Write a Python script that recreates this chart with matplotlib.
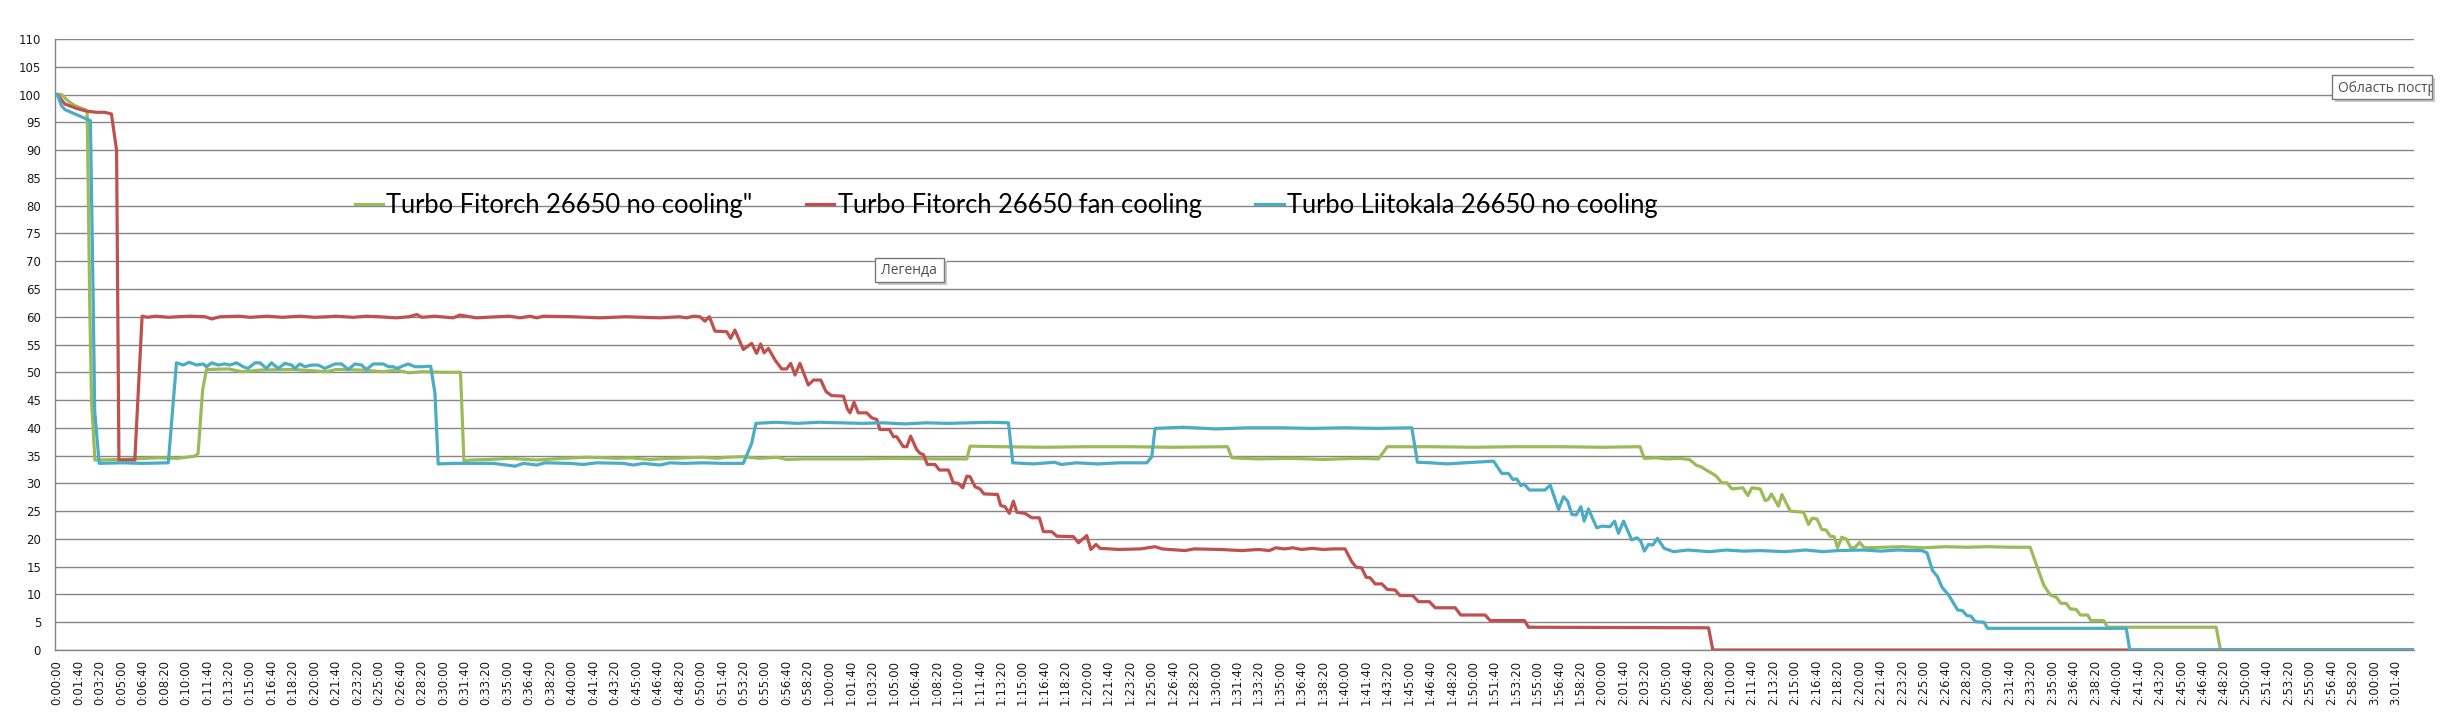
"""Turbo mode discharge comparison: brightness (%) over time for three 26650 setups."""

import matplotlib
matplotlib.use("Agg")
import matplotlib.pyplot as plt
from matplotlib.patches import Rectangle

W, H = 2447, 727

SERIES_NAMES = [
    'Turbo Fitorch 26650 no cooling"',
    "Turbo Fitorch 26650 fan cooling",
    "Turbo Liitokala 26650 no cooling",
]
COLORS = ["#9BBB59", "#C0504D", "#4BACC6"]

# time in seconds, brightness in %
GREEN_T = [0, 20, 52, 83, 130, 140, 152, 160, 176, 300, 471, 560, 642, 657, 678, 696, 800, 860,
           950, 1100, 1256, 1300, 1420, 1520, 1580, 1640, 1700, 1800, 1880, 1896, 1924, 2017, 2110,
           2235, 2359, 2468, 2561, 2615, 2670, 2763, 2856, 3012, 3074, 3121, 3198, 3276, 3354, 3400,
           3478, 3742, 3900, 4100, 4240, 4255, 4400, 4600, 4800, 5000, 5200, 5455, 5475, 5600, 5750,
           5900, 6050, 6158, 6200, 6400, 6600, 6800, 7000, 7200, 7378, 7397, 7450, 7500, 7560, 7608,
           7642, 7662, 7681, 7705, 7733, 7759, 7782, 7806, 7857, 7880, 7899, 7938, 7961, 7975, 7990,
           8023, 8039, 8078, 8140, 8163, 8179, 8202, 8225, 8245, 8264, 8283, 8298, 8318, 8339, 8360,
           8381, 8401, 8423, 8600, 8700, 8800, 8900, 9000, 9100, 9196, 9231, 9259, 9290, 9318, 9339,
           9364, 9383, 9411, 9430, 9464, 9479, 9538, 9557, 10063, 10083, 10980]
GREEN_V = [100, 100, 98.8, 98.0, 97.3, 97.0, 62.0, 45.0, 34.2, 34.3, 34.6, 34.5, 34.9, 35.4, 46.8,
           50.5, 50.6, 50.1, 50.4, 50.5, 50.1, 50.5, 50.4, 50.1, 50.4, 49.9, 50.1, 50.0, 50.0, 34.0,
           34.2, 34.3, 34.5, 34.2, 34.5, 34.7, 34.6, 34.5, 34.6, 34.3, 34.5, 34.7, 34.5, 34.7, 34.8,
           34.5, 34.7, 34.3, 34.4, 34.4, 34.5, 34.4, 34.4, 36.7, 36.6, 36.5, 36.6, 36.6, 36.5, 36.6,
           34.6, 34.4, 34.5, 34.3, 34.5, 34.4, 36.6, 36.6, 36.5, 36.6, 36.6, 36.5, 36.6, 34.5, 34.6,
           34.4, 34.5, 34.3, 33.2, 33.0, 32.5, 32.0, 31.3, 30.1, 30.1, 29.0, 29.2, 27.8, 29.2, 29.0,
           26.9, 27.1, 28.1, 25.9, 28.0, 25.0, 24.8, 22.6, 23.7, 23.6, 21.7, 21.6, 20.5, 20.4, 18.4,
           20.3, 20.0, 18.4, 18.5, 19.4, 18.4, 18.6, 18.4, 18.6, 18.5, 18.6, 18.5, 18.5, 14.7, 11.7,
           9.9, 9.5, 8.4, 8.4, 7.4, 7.3, 6.3, 6.3, 5.3, 5.3, 4.1, 4.1, 0, 0]

RED_T = [0, 36, 90, 138, 185, 222, 253, 277, 288, 362, 396, 420, 460, 520, 560, 620, 690, 720, 760,
         850, 900, 980, 1050, 1130, 1200, 1260, 1300, 1380, 1440, 1500, 1580, 1640, 1676, 1700, 1760,
         1846, 1877, 1955, 2048, 2110, 2157, 2204, 2235, 2266, 2400, 2530, 2650, 2810, 2900, 2934,
         2965, 2996, 3019, 3040, 3066, 3121, 3139, 3159, 3198, 3237, 3260, 3279, 3295, 3315, 3346,
         3377, 3400, 3419, 3439, 3462, 3501, 3525, 3559, 3584, 3610, 3665, 3683, 3696, 3714, 3734,
         3773, 3797, 3820, 3835, 3879, 3898, 3913, 3944, 3960, 3978, 4006, 4022, 4037, 4056, 4092,
         4112, 4154, 4177, 4200, 4221, 4240, 4255, 4278, 4301, 4320, 4383, 4398, 4418, 4438, 4457,
         4473, 4511, 4543, 4578, 4597, 4636, 4659, 4737, 4760, 4799, 4818, 4842, 4861, 4950, 5050,
         5117, 5150, 5257, 5300, 5420, 5520, 5600, 5650, 5680, 5720, 5760, 5800, 5850, 5900, 5950,
         6003, 6034, 6055, 6080, 6101, 6120, 6143, 6174, 6200, 6236, 6259, 6318, 6345, 6396, 6423,
         6516, 6542, 6656, 6679, 6839, 6858, 7697, 7717, 10980]
RED_V = [100, 98.3, 97.5, 97.0, 96.8, 96.8, 96.5, 90.0, 34.2, 34.2, 60.1, 59.9, 60.1, 59.9, 60.0,
         60.1, 60.0, 59.6, 60.0, 60.1, 59.9, 60.1, 59.9, 60.1, 59.9, 60.0, 60.1, 59.9, 60.1, 60.0,
         59.8, 60.0, 60.4, 59.9, 60.1, 59.8, 60.3, 59.8, 60.0, 60.1, 59.8, 60.1, 59.8, 60.1, 60.0,
         59.8, 60.0, 59.8, 60.0, 59.8, 60.1, 60.0, 59.2, 60.0, 57.4, 57.3, 56.1, 57.6, 54.1, 55.2,
         53.4, 55.1, 53.5, 54.3, 52.2, 50.6, 50.6, 51.6, 49.5, 51.6, 47.7, 48.6, 48.6, 46.5, 45.8,
         45.7, 43.4, 42.7, 44.6, 42.7, 42.7, 41.8, 41.5, 39.7, 39.7, 38.4, 38.4, 36.6, 36.6, 38.5,
         36.1, 35.4, 35.2, 33.4, 33.4, 32.4, 32.4, 30.1, 30.0, 29.2, 31.3, 31.2, 29.4, 29.0, 28.1,
         28.0, 26.0, 25.8, 24.6, 26.8, 24.8, 24.6, 23.8, 23.8, 21.3, 21.3, 20.5, 20.4, 19.3, 20.6,
         18.1, 19.0, 18.3, 18.1, 18.2, 18.6, 18.2, 17.9, 18.2, 18.1, 17.9, 18.1, 17.9, 18.4, 18.2,
         18.4, 18.1, 18.3, 18.1, 18.2, 18.2, 15.9, 14.9, 14.8, 13.1, 13.0, 11.9, 11.9, 10.9, 10.8,
         9.8, 9.8, 8.7, 8.7, 7.6, 7.6, 6.3, 6.3, 5.3, 5.3, 4.1, 4.0, 0, 0]

BLUE_T = [0, 20, 36, 83, 155, 168, 175, 196, 300, 400, 518, 556, 588, 615, 650, 681, 696, 720, 751,
          782, 805, 836, 867, 890, 922, 945, 976, 999, 1030, 1062, 1093, 1108, 1131, 1155, 1186, 1217,
          1248, 1295, 1326, 1357, 1388, 1419, 1442, 1473, 1520, 1544, 1567, 1582, 1636, 1668, 1698,
          1741, 1761, 1776, 1850, 1924, 2033, 2134, 2173, 2235, 2274, 2390, 2452, 2514, 2639, 2686,
          2732, 2810, 2856, 2918, 3012, 3105, 3198, 3237, 3257, 3350, 3450, 3550, 3650, 3750, 3850,
          3950, 4050, 4150, 4250, 4350, 4434, 4454, 4550, 4650, 4680, 4750, 4850, 4950, 5079, 5102,
          5117, 5250, 5400, 5550, 5700, 5850, 6000, 6150, 6314, 6340, 6400, 6480, 6560, 6695, 6733,
          6764, 6785, 6803, 6822, 6837, 6862, 6935, 6959, 6998, 7021, 7040, 7060, 7080, 7102, 7117,
          7137, 7176, 7200, 7238, 7259, 7277, 7301, 7339, 7363, 7381, 7398, 7417, 7437, 7459, 7490,
          7534, 7600, 7700, 7780, 7860, 7940, 8050, 8150, 8230, 8300, 8420, 8500, 8580, 8650, 8691,
          8715, 8741, 8764, 8785, 8816, 8858, 8880, 8901, 8920, 8940, 8980, 8998, 9644, 9660, 10980]
BLUE_V = [100, 98.0, 97.3, 96.5, 95.3, 63.0, 43.0, 33.6, 33.7, 33.6, 33.7, 51.7, 51.3, 51.8, 51.3,
          51.5, 51.0, 51.7, 51.3, 51.5, 51.3, 51.7, 51.0, 50.7, 51.7, 51.7, 50.7, 51.7, 50.7, 51.6,
          51.3, 50.7, 51.5, 51.0, 51.3, 51.3, 50.7, 51.5, 51.5, 50.5, 51.5, 51.3, 50.5, 51.5, 51.5,
          51.0, 51.0, 50.7, 51.5, 51.0, 51.0, 51.1, 46.2, 33.5, 33.6, 33.6, 33.6, 33.1, 33.6, 33.3,
          33.7, 33.6, 33.4, 33.7, 33.6, 33.3, 33.6, 33.3, 33.7, 33.6, 33.7, 33.6, 33.6, 37.2, 40.8,
          41.0, 40.8, 41.0, 40.9, 40.8, 40.9, 40.7, 40.9, 40.8, 40.9, 41.0, 40.9, 33.7, 33.5, 33.8,
          33.4, 33.7, 33.5, 33.7, 33.7, 34.8, 39.9, 40.1, 39.8, 40.0, 40.0, 39.9, 40.0, 39.9, 40.0,
          33.8, 33.7, 33.5, 33.7, 34.0, 31.8, 31.8, 30.7, 30.8, 29.6, 29.9, 28.8, 28.8, 29.7, 25.3,
          27.6, 26.8, 24.4, 24.3, 25.8, 23.2, 25.4, 22.0, 22.3, 22.2, 23.2, 21.0, 23.2, 19.8, 20.2,
          19.6, 17.8, 19.0, 18.9, 20.1, 18.3, 17.7, 18.0, 17.7, 18.0, 17.8, 17.9, 17.7, 18.0, 17.7,
          17.9, 18.0, 17.8, 18.0, 17.9, 17.9, 17.5, 14.3, 13.2, 11.3, 9.9, 7.2, 7.1, 6.2, 6.1, 5.1,
          5.0, 3.9, 3.9, 0, 0]

Y_TICKS = list(range(0, 111, 5))
X_TICKS = list(range(0, 10901, 100))
X_LABELS = [f"{t // 3600}:{t % 3600 // 60:02d}:{t % 60:02d}" for t in X_TICKS]


def add_tooltip(fig, text, x0, y0, x1, y1):
    # Excel hover tooltip: white box, grey border, soft shadow (pixel coords from top-left)
    def fx(x):
        return x / W

    def fy(y):
        return 1 - y / H

    shadow = Rectangle((fx(x0 + 3), fy(y1 + 3)), fx(x1 - x0), (y1 - y0) / H,
                       transform=fig.transFigure, facecolor="#c9c9c9", edgecolor="none", zorder=20)
    box = Rectangle((fx(x0), fy(y1)), fx(x1 - x0), (y1 - y0) / H,
                    transform=fig.transFigure, facecolor="white", edgecolor="#7a7a7a",
                    linewidth=1.0, zorder=21)
    fig.add_artist(shadow)
    fig.add_artist(box)
    txt = fig.text(fx(x0 + 6), fy((y0 + y1) / 2 + 1), text, ha="left", va="center",
                   fontsize=10, family=["Open Sans", "DejaVu Sans"], color="#505050", zorder=22)
    txt.set_clip_path(box)


def main():
    fig = plt.figure(figsize=(W / 100, H / 100), dpi=100)
    fig.patch.set_facecolor("white")
    left, right, top, bottom = 55, 2414, 39, 650
    ax = fig.add_axes([left / W, 1 - bottom / H, (right - left) / W, (bottom - top) / H])

    for name, color, t, v in zip(SERIES_NAMES, COLORS,
                                 [GREEN_T, RED_T, BLUE_T], [GREEN_V, RED_V, BLUE_V]):
        ax.plot(t, v, color=color, lw=2.3, label=name, solid_joinstyle="round", zorder=3)

    ax.set_xlim(-10, 10985)
    ax.set_ylim(0, 110)
    ax.set_yticks(Y_TICKS)
    ax.set_xticks(X_TICKS)
    ax.set_xticklabels(X_LABELS, rotation=90)
    ax.tick_params(axis="both", length=0, labelsize=8.5, labelcolor="#1a1a1a")
    ax.tick_params(axis="y", pad=10)
    ax.tick_params(axis="x", pad=7)
    ax.grid(axis="y", color="#868686", lw=1.0)
    ax.set_axisbelow(True)
    for side in ("top", "right"):
        ax.spines[side].set_visible(False)
    for side in ("left", "bottom"):
        ax.spines[side].set_color("#868686")
        ax.spines[side].set_linewidth(1.0)

    ax.legend(loc="center left", bbox_to_anchor=(355 / W, 1 - 205 / H),
              bbox_transform=fig.transFigure, ncol=3, frameon=False,
              prop={"family": "Lato", "size": 18.4}, handlelength=1.1,
              handletextpad=0.13, columnspacing=2.1, borderpad=0, borderaxespad=0)

    add_tooltip(fig, "Легенда", 875, 258, 944, 282)
    add_tooltip(fig, "Область постр", 2332, 75, 2432, 99)

    fig.savefig("out.png", dpi=100, facecolor="white")
    plt.close(fig)


if __name__ == "__main__":
    main()
